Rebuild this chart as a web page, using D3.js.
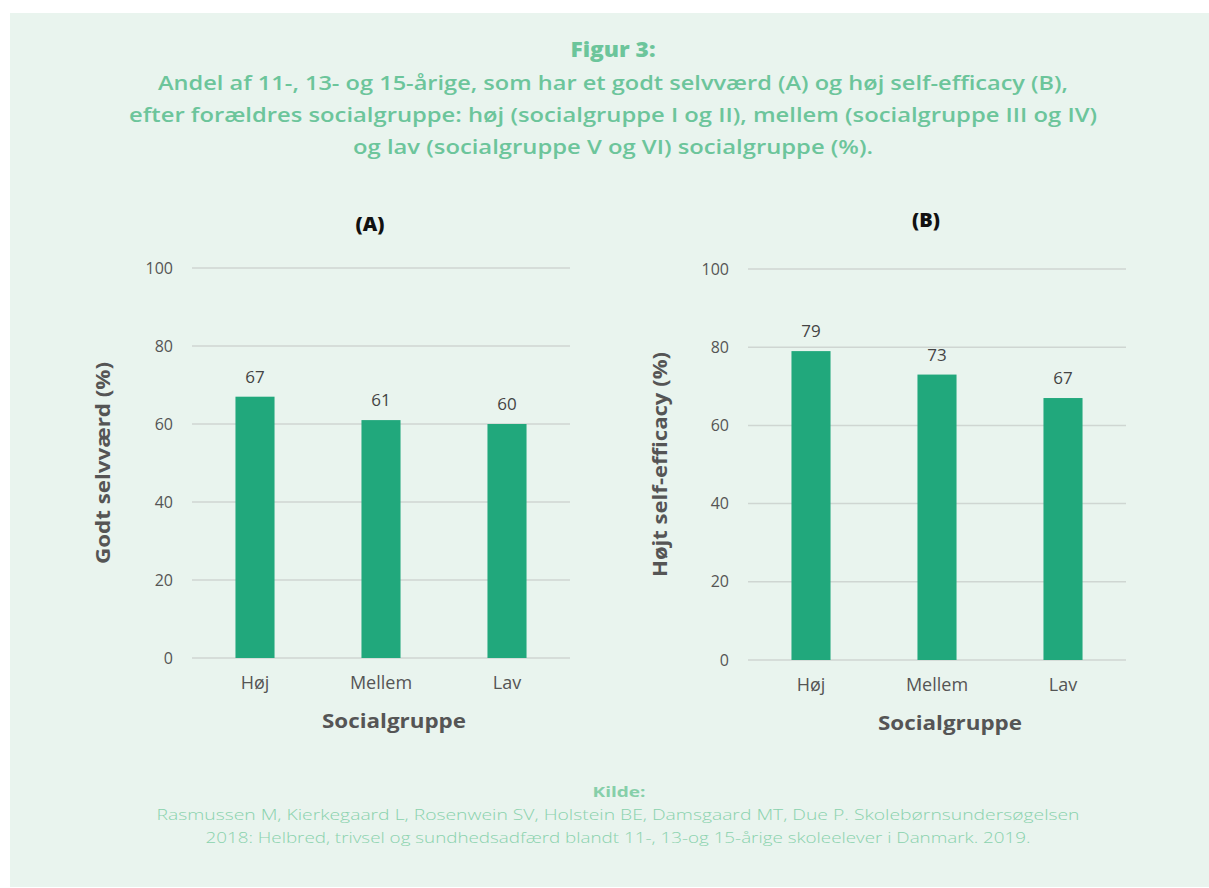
<!DOCTYPE html>
<html>
<head>
<meta charset="utf-8">
<script src="https://cdn.jsdelivr.net/npm/d3@7"></script>
<style>
  body { margin: 0; background: #fff; }
  svg text { font-family: "Open Sans", Lato, sans-serif; }
</style>
</head>
<body>
<svg id="chart" width="1209" height="888"></svg>
<script>
// data
const categories = ["Høj", "Mellem", "Lav"];
const selvvaerd = [67, 61, 60];
const selfEfficacy = [79, 73, 67];
const yTicks = [0, 20, 40, 60, 80, 100];

const titleLines = [
  "Andel af 11-, 13- og 15-årige, som har et godt selvværd (A) og høj self-efficacy (B),",
  "efter forældres socialgruppe: høj (socialgruppe I og II), mellem (socialgruppe III og IV)",
  "og lav (socialgruppe V og VI) socialgruppe (%)."
];
const sourceLines = [
  "Rasmussen M, Kierkegaard L, Rosenwein SV, Holstein BE, Damsgaard MT, Due P. Skolebørnsundersøgelsen",
  "2018: Helbred, trivsel og sundhedsadfærd blandt 11-, 13-og 15-årige skoleelever i Danmark. 2019."
];

const svg = d3.select("#chart");
const W = +svg.attr("width");

// stretch a text to a given width (the original font is wider than the ones we have)
function fit(sel, w) {
  sel.each(function () {
    const cur = this.getComputedTextLength();
    if (Math.abs(cur - w) > 2) {
      d3.select(this).attr("textLength", w).attr("lengthAdjust", "spacingAndGlyphs");
    }
  });
}

svg.append("rect")
  .attr("x", 10).attr("y", 13)
  .attr("width", W - 10).attr("height", 874)
  .attr("fill", "#e9f4ee");

const green = "#6cc59b";
svg.append("text")
  .attr("x", 613).attr("y", 57)
  .attr("text-anchor", "middle")
  .attr("font-size", 21).attr("font-weight", 800)
  .attr("fill", green)
  .text("Figur 3:")
  .call(fit, 85);

const titleW = [910, 968, 520];
svg.selectAll(".tline")
  .data(titleLines)
  .join("text")
  .attr("class", "tline")
  .attr("x", 613)
  .attr("y", (d, i) => 90 + i * 32)
  .attr("text-anchor", "middle")
  .attr("font-size", 19).attr("font-weight", 600)
  .attr("fill", green)
  .text(d => d)
  .each(function (d, i) { d3.select(this).call(fit, titleW[i]); });

svg.append("text")
  .attr("x", 619).attr("y", 797)
  .attr("text-anchor", "middle")
  .attr("font-size", 15).attr("font-weight", 700)
  .attr("fill", "#86cfa9")
  .text("Kilde:")
  .call(fit, 53);

const sourceW = [923, 825];
svg.selectAll(".sline")
  .data(sourceLines)
  .join("text")
  .attr("class", "sline")
  .attr("x", 618)
  .attr("y", (d, i) => 820 + i * 23)
  .attr("text-anchor", "middle")
  .attr("font-size", 15).attr("font-weight", 300)
  .attr("fill", "#8ad2ad")
  .text(d => d)
  .each(function (d, i) { d3.select(this).call(fit, sourceW[i]); });

function drawPanel(opts) {
  const { values, x0, x1, yTop, yBottom, label, labelY, yTitle, yTitleX, yTitleW } = opts;
  const g = svg.append("g");

  const x = d3.scaleBand().domain(categories).range([x0, x1]).paddingInner(0.69).paddingOuter(0.345);
  const y = d3.scaleLinear().domain([0, 100]).range([yBottom, yTop]);

  g.append("g")
    .selectAll("line")
    .data(yTicks)
    .join("line")
    .attr("x1", x0).attr("x2", x1)
    .attr("y1", d => y(d)).attr("y2", d => y(d))
    .attr("stroke", "#cfd6d2").attr("stroke-width", 1.5);

  g.append("g")
    .selectAll("text")
    .data(yTicks)
    .join("text")
    .attr("x", x0 - 19)
    .attr("y", d => y(d))
    .attr("dy", "0.35em")
    .attr("text-anchor", "end")
    .attr("font-size", 16)
    .attr("fill", "#555")
    .text(d => d);

  g.append("g")
    .selectAll("rect")
    .data(values)
    .join("rect")
    .attr("x", (d, i) => x(categories[i]))
    .attr("width", x.bandwidth())
    .attr("y", d => y(d))
    .attr("height", d => y(0) - y(d))
    .attr("fill", "#21a87c");

  g.append("g")
    .selectAll("text")
    .data(values)
    .join("text")
    .attr("x", (d, i) => x(categories[i]) + x.bandwidth() / 2)
    .attr("y", d => y(d) - 14)
    .attr("text-anchor", "middle")
    .attr("font-size", 17)
    .attr("fill", "#444")
    .text(d => d);

  g.append("g")
    .selectAll("text")
    .data(categories)
    .join("text")
    .attr("x", d => x(d) + x.bandwidth() / 2)
    .attr("y", yBottom + 31)
    .attr("text-anchor", "middle")
    .attr("font-size", 18)
    .attr("fill", "#555")
    .text(d => d);

  g.append("text")
    .attr("x", (x0 + x1) / 2 + 13)
    .attr("y", yBottom + 70)
    .attr("text-anchor", "middle")
    .attr("font-size", 20).attr("font-weight", 700)
    .attr("fill", "#555")
    .text("Socialgruppe")
    .call(fit, 144);

  g.append("text")
    .attr("transform", `translate(${yTitleX},${(yTop + yBottom) / 2}) rotate(-90)`)
    .attr("text-anchor", "middle")
    .attr("font-size", 20).attr("font-weight", 700)
    .attr("fill", "#555")
    .text(yTitle)
    .call(fit, yTitleW);

  g.append("text")
    .attr("x", (x0 + x1) / 2 - 11)
    .attr("y", labelY)
    .attr("text-anchor", "middle")
    .attr("font-size", 20).attr("font-weight", 800)
    .attr("fill", "#111")
    .text(label);
}

drawPanel({ values: selvvaerd, x0: 192, x1: 570, yTop: 268, yBottom: 658,
  label: "(A)", labelY: 231, yTitle: "Godt selvværd (%)", yTitleX: 110, yTitleW: 202 });
drawPanel({ values: selfEfficacy, x0: 748, x1: 1126, yTop: 269, yBottom: 660,
  label: "(B)", labelY: 227, yTitle: "Højt self-efficacy (%)", yTitleX: 667, yTitleW: 225 });
</script>
</body>
</html>
